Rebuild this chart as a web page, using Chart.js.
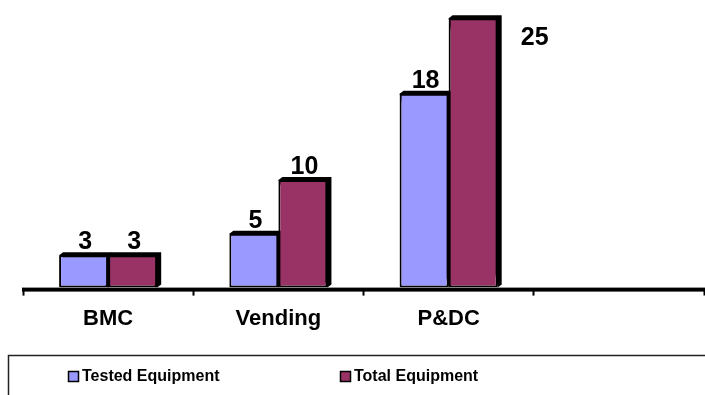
<!DOCTYPE html>
<html>
<head>
<meta charset="utf-8">
<script src="https://cdn.jsdelivr.net/npm/chart.js@4"></script>
<style>
  html, body { margin: 0; padding: 0; background: #ffffff; }
  #wrap { width: 705px; height: 395px; }
</style>
</head>
<body>
<div id="wrap"><canvas id="c" width="705" height="395"></canvas></div>
<script>
const categories = ['BMC', 'Vending', 'P&DC', ''];
const testedEquipment = [3, 5, 18, null];
const totalEquipment = [3, 10, 25, null];
const seriesNames = ['Tested Equipment', 'Total Equipment'];
const seriesColors = ['#9999FF', '#993366'];

const FONT = '"Liberation Sans", Arial, sans-serif';
const DEPTH_X = 4, DEPTH_Y = 3;

// Fake 3D depth: dark top and right faces behind every bar
const barDepth = {
  id: 'barDepth',
  beforeDatasetsDraw(chart) {
    const ctx = chart.ctx;
    ctx.save();
    ctx.fillStyle = '#000000';
    chart.data.datasets.forEach((ds, di) => {
      chart.getDatasetMeta(di).data.forEach((bar, i) => {
        if (ds.data[i] == null) return;
        const L = bar.x - bar.width / 2, R = bar.x + bar.width / 2;
        const T = bar.y, B = bar.base;
        ctx.beginPath();
        ctx.moveTo(L, T);
        ctx.lineTo(L + DEPTH_X, T - DEPTH_Y);
        ctx.lineTo(R + DEPTH_X, T - DEPTH_Y);
        ctx.lineTo(R + DEPTH_X, B - DEPTH_Y);
        ctx.lineTo(R, B);
        ctx.closePath();
        ctx.fill();
      });
    });
    ctx.restore();
  }
};

// Heavy category axis line plus value labels over the bars;
// a label that would leave the plot sits beside its bar
const valueLabels = {
  id: 'valueLabels',
  afterDatasetsDraw(chart) {
    const ctx = chart.ctx;
    const area = chart.chartArea;
    ctx.save();
    ctx.fillStyle = '#000000';
    ctx.fillRect(area.left - 1, area.bottom, area.right - area.left + 2, 4);
    ctx.font = 'bold 25px ' + FONT;
    ctx.textAlign = 'center';
    ctx.textBaseline = 'alphabetic';
    chart.data.datasets.forEach((ds, di) => {
      chart.getDatasetMeta(di).data.forEach((bar, i) => {
        const v = ds.data[i];
        if (v == null) return;
        let x = bar.x + 1.5, y = bar.y - 6;
        if (y - 20 < area.top) {
          x = bar.x + bar.width / 2 + 37;
          y = bar.y + 26.5;
        }
        ctx.fillText(String(v), x, y);
      });
    });
    ctx.restore();
  }
};

// Boxed legend along the bottom
const boxedLegend = {
  id: 'boxedLegend',
  afterDraw(chart) {
    const ctx = chart.ctx;
    ctx.save();
    ctx.strokeStyle = '#222222';
    ctx.lineWidth = 1.5;
    ctx.strokeRect(8.5, 355.5, 720, 60);
    const starts = [68, 340];
    ctx.font = 'bold 16px ' + FONT;
    ctx.textBaseline = 'middle';
    ctx.textAlign = 'left';
    chart.data.datasets.forEach((ds, di) => {
      const x = starts[di];
      ctx.fillStyle = ds.backgroundColor;
      ctx.fillRect(x, 371, 11, 11);
      ctx.lineWidth = 1.5;
      ctx.strokeStyle = '#000000';
      ctx.strokeRect(x + 0.5, 371.5, 10, 10);
      ctx.fillStyle = '#000000';
      ctx.fillText(ds.label, x + 14, 377);
    });
    ctx.restore();
  }
};

new Chart(document.getElementById('c'), {
  type: 'bar',
  data: {
    labels: categories,
    datasets: [
      { label: seriesNames[0], data: testedEquipment, backgroundColor: seriesColors[0],
        borderColor: '#000000', borderWidth: 2, borderSkipped: false },
      { label: seriesNames[1], data: totalEquipment, backgroundColor: seriesColors[1],
        borderColor: '#000000', borderWidth: 2, borderSkipped: false }
    ]
  },
  options: {
    responsive: false,
    animation: false,
    devicePixelRatio: 1,
    layout: { padding: { left: 23, right: 1, top: 0, bottom: 53 } },
    plugins: { legend: { display: false }, tooltip: { enabled: false } },
    datasets: { bar: { categoryPercentage: 0.576, barPercentage: 1 } },
    scales: {
      x: {
        grid: { display: true, drawOnChartArea: false, drawTicks: true, tickLength: 8,
                tickColor: '#000000', tickWidth: 2, offset: true },
        border: { display: false },
        ticks: { color: '#000000', font: { family: FONT, size: 22, weight: 'bold' }, padding: 10,
                 maxRotation: 0 }
      },
      y: {
        display: false,
        min: 0,
        max: 26.7
      }
    }
  },
  plugins: [barDepth, valueLabels, boxedLegend]
});
</script>
</body>
</html>
